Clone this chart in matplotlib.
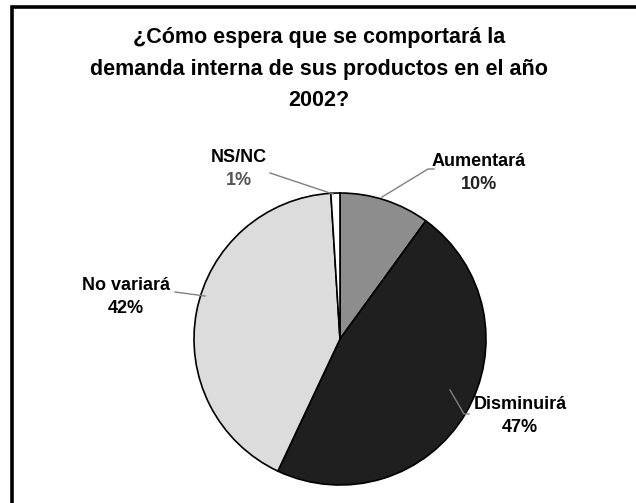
import matplotlib
matplotlib.use("Agg")
import matplotlib.pyplot as plt
from matplotlib.patches import Rectangle
from matplotlib.lines import Line2D

title = "¿Cómo espera que se comportará la\ndemanda interna de sus productos en el año\n2002?"
categories = ["Aumentará", "Disminuirá", "No variará", "NS/NC"]
values = [10, 47, 42, 1]
colors = ["#8d8d8d", "#1f1f1f", "#dcdcdc", "#ffffff"]

W, H = 636, 503
fig = plt.figure(figsize=(W / 100, H / 100), dpi=100)
plt.rcParams['font.family'] = ['Liberation Sans', 'DejaVu Sans']

# frame
fig.patches.append(Rectangle((11.5 / W, -0.1), 1.2, (H - 7.0) / H + 0.1,
                             transform=fig.transFigure, fill=False,
                             edgecolor="black", linewidth=2.6))

fig.text(319 / W, 1 - 69 / H, title, ha="center", va="center",
         fontsize=15.5, fontweight="bold", linespacing=1.63)

cx, cy, r = 340, 339, 146
ax = fig.add_axes([(cx - r) / W, (H - cy - r) / H, 2 * r / W, 2 * r / H])

ax.pie(values, colors=colors, startangle=90, counterclock=False, radius=1,
       wedgeprops=dict(edgecolor="black", linewidth=1.2))
ax.set_xlim(-1, 1)
ax.set_ylim(-1, 1)
ax.axis("off")


def d(px, py):
    return ((px - cx) / r, (cy - py) / r)


label_pos = [(479, 173), (520, 416), (126, 297), (239, 169)]
pct_colors = ["#222222", "black", "black", "#555555"]
for cat, v, (px, py), pc in zip(categories, values, label_pos, pct_colors):
    x, y = d(px, py)
    ax.text(x, y + 0.078, cat, ha="center", va="center", fontsize=13,
            fontweight="bold", color="black", clip_on=False)
    ax.text(x, y - 0.082, f"{v}%", ha="center", va="center", fontsize=13,
            fontweight="bold", color=pc, clip_on=False)

leaders = [
    [(382, 197), (428, 169), (434, 169)],
    [(450, 390), (464, 414), (469, 414)],
    [(175, 292), (205, 296)],
    [(270, 173), (333, 194)],
]
for pts in leaders:
    xs, ys = zip(*[d(px, py) for px, py in pts])
    ax.add_line(Line2D(xs, ys, color="#808080", linewidth=1.0, clip_on=False))

fig.savefig("out.png", dpi=100, facecolor="white")
